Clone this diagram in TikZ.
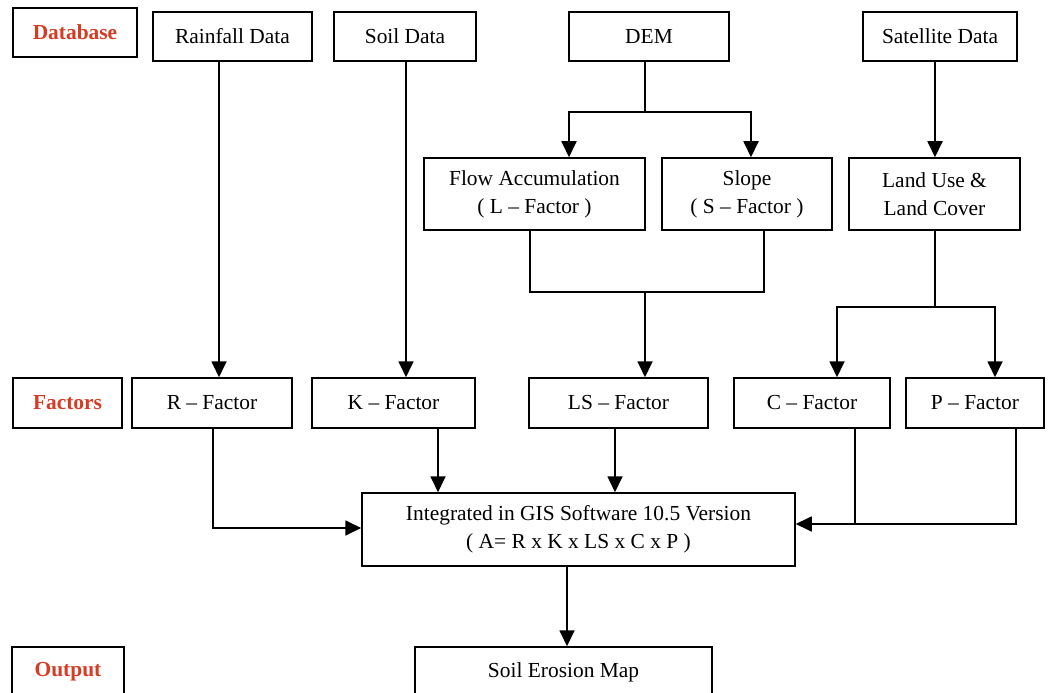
\documentclass[tikz,border=0pt]{standalone}
\usepackage{fontspec}
\setmainfont{Liberation Serif}
\usetikzlibrary{arrows.meta}
\definecolor{lblred}{RGB}{214,60,36}
\begin{document}
\begin{tikzpicture}[x=1bp,y=-1bp,
  box/.style={draw=black, line width=1.5bp, rectangle, inner sep=0pt, align=center,
    font=\fontsize{21.5}{28}\selectfont},
  lbl/.style={box, text=lblred, font=\fontsize{21.5}{28}\selectfont\bfseries},
  conn/.style={line width=1.8bp, draw=black},
  arr/.style={conn, -{Triangle[length=16bp,width=15bp]}}]
\useasboundingbox (0,0) rectangle (1048,693);
\clip (0,0) rectangle (1048,693);
\fill[white] (0,0) rectangle (1048,693);

% row 1
\node[lbl, minimum width=124bp, minimum height=49bp] (db) at (75,32.5) {Database};
\node[box, minimum width=159bp, minimum height=49bp] (rain) at (232.5,36.5) {Rainfall Data};
\node[box, minimum width=142bp, minimum height=49bp] (soil) at (405,36.5) {Soil Data};
\node[box, minimum width=160bp, minimum height=49bp] (dem) at (649,36.5) {DEM};
\node[box, minimum width=154bp, minimum height=49bp] (sat) at (940,36.5) {Satellite Data};

% row 2
\node[box, minimum width=221bp, minimum height=72bp] (flow) at (534.5,194) {Flow Accumulation\\( L – Factor )};
\node[box, minimum width=170bp, minimum height=72bp] (slope) at (747,194) {Slope\\( S – Factor )};
\node[box, minimum width=171bp, minimum height=72bp] (lu) at (934.5,194) {Land Use \&\\Land Cover};

% row 3
\node[lbl, minimum width=109bp, minimum height=50bp] (fac) at (67.5,403) {Factors};
\node[box, minimum width=160bp, minimum height=50bp] (rf) at (212,403) {R – Factor};
\node[box, minimum width=163bp, minimum height=50bp] (kf) at (393.5,403) {K – Factor};
\node[box, minimum width=179bp, minimum height=50bp] (lsf) at (618.5,403) {LS – Factor};
\node[box, minimum width=156bp, minimum height=50bp] (cf) at (812,403) {C – Factor};
\node[box, minimum width=138bp, minimum height=50bp] (pf) at (975,403) {P – Factor};

% integration
\node[box, minimum width=433bp, minimum height=73bp] (int) at (578.5,529.5) {Integrated in GIS Software 10.5 Version\\( A= R x K x LS x C x P )};

% output
\node[lbl, minimum width=112bp, minimum height=50bp] (out) at (68,672) {Output};
\node[box, minimum width=297bp, minimum height=50bp] (map) at (563.5,672) {Soil Erosion Map};

% helper coordinates
\coordinate (xr) at (219,0);
\coordinate (xk) at (406,0);
\coordinate (xdem) at (645,0);
\coordinate (xfl) at (569,0);
\coordinate (xsl) at (751,0);
\coordinate (ydem) at (0,112);
\coordinate (xsat) at (935,0);
\coordinate (xflb) at (530,0);
\coordinate (xslb) at (764,0);
\coordinate (yls) at (0,292);
\coordinate (ylu) at (0,307);
\coordinate (xc) at (837,0);
\coordinate (xp) at (995,0);
\coordinate (xrb) at (213,0);
\coordinate (yrb) at (0,528);
\coordinate (xkb) at (438,0);
\coordinate (xlsb) at (615,0);
\coordinate (xcb) at (855,0);
\coordinate (xpb) at (1016,0);
\coordinate (ycp) at (0,524);
\coordinate (xmap) at (567,0);

% connectors
\draw[arr] (rain.south -| xr) -- (rf.north -| xr);
\draw[arr] (soil.south -| xk) -- (kf.north -| xk);
\draw[conn] (dem.south -| xdem) -- (xdem |- ydem);
\draw[arr] (xdem |- ydem) -| (flow.north -| xfl);
\draw[arr] (xdem |- ydem) -| (slope.north -| xsl);
\draw[arr] (sat.south -| xsat) -- (lu.north -| xsat);
\draw[conn] (flow.south -| xflb) |- (xdem |- yls);
\draw[conn] (slope.south -| xslb) |- (xdem |- yls);
\draw[arr] (xdem |- yls) -- (lsf.north -| xdem);
\draw[conn] (lu.south -| xsat) -- (xsat |- ylu);
\draw[arr] (xsat |- ylu) -| (cf.north -| xc);
\draw[arr] (xsat |- ylu) -| (pf.north -| xp);
\draw[arr] (rf.south -| xrb) |- (int.west |- yrb);
\draw[arr] (kf.south -| xkb) -- (int.north -| xkb);
\draw[arr] (lsf.south -| xlsb) -- (int.north -| xlsb);
\draw[conn] (cf.south -| xcb) -- (xcb |- ycp);
\draw[arr] (pf.south -| xpb) |- (int.east |- ycp);
\draw[arr] (int.south -| xmap) -- (map.north -| xmap);
\end{tikzpicture}
\end{document}
